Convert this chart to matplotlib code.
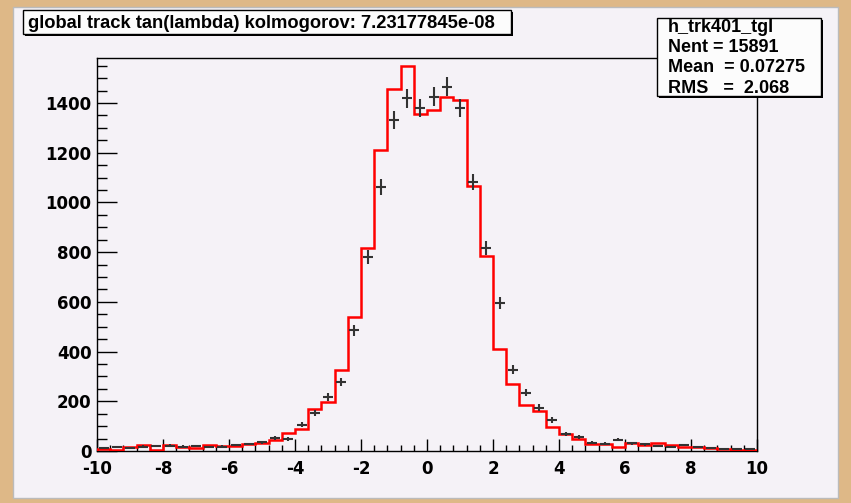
import numpy as np
import matplotlib
matplotlib.use("Agg")
import matplotlib.pyplot as plt
from matplotlib.patches import Rectangle

plt.rcParams["axes.unicode_minus"] = False

# ---------------- data ----------------
x_min, x_max, n_bins = -10.0, 10.0, 50
red_ref = [9, 6, 17, 23, 5, 24, 17, 11, 23, 21,
           22, 28, 33, 44, 72, 88, 170, 197, 326, 538,
           818, 1211, 1456, 1550, 1355, 1372, 1425, 1412, 1067, 786,
           409, 271, 185, 160, 96, 68, 50, 30, 27, 18,
           31, 25, 31, 24, 18, 15, 12, 8, 5, 4]
black_data = [12, 15, 14, 18, 20, 22, 18, 20, 16, 18,
              23, 28, 35, 53, 48, 105, 152, 217, 277, 486,
              782, 1063, 1332, 1419, 1380, 1425, 1466, 1379, 1083, 815,
              594, 326, 235, 174, 124, 70, 55, 34, 30, 45,
              31, 27, 20, 17, 25, 15, 12, 10, 9, 8]
x_ticks = [-10, -8, -6, -4, -2, 0, 2, 4, 6, 8, 10]
y_ticks = [0, 200, 400, 600, 800, 1000, 1200, 1400]
title_text = "global track tan(lambda) kolmogorov: 7.23177845e-08"
stats_lines = ["h_trk401_tgl", "Nent = 15891", "Mean  = 0.07275", "RMS   =  2.068"]

# ---------------- style ----------------
W, H = 851, 503
TAN = "#DEB887"
PAD = "#F5F2F7"
FONT = ["Liberation Sans", "DejaVu Sans"]
TICKFONT = ["DejaVu Sans"]

fig = plt.figure(figsize=(W / 100, H / 100), dpi=100, facecolor=TAN)

def fx(px):
    return px / W

def fy(py):
    return 1 - py / H

# pad background
fig.patches.append(Rectangle((fx(12.7), fy(498)), fx(838) - fx(12.7), fy(7) - fy(498),
                             transform=fig.transFigure, facecolor=PAD,
                             edgecolor="#BBBBBB", lw=1.0, zorder=-5))

ax = fig.add_axes([fx(97), fy(451), fx(757) - fx(97), fy(57.7) - fy(451)])
ax.set_facecolor(PAD)

edges = np.linspace(x_min, x_max, n_bins + 1)
centers = 0.5 * (edges[:-1] + edges[1:])
black = np.array(black_data, dtype=float)

ax.stairs(red_ref, edges, color="#FF0000", lw=1.8, zorder=3)
ax.errorbar(centers, black, yerr=np.sqrt(black), xerr=0.15, fmt="none",
            ecolor="#333333", elinewidth=1.5, capsize=0, zorder=4)

ax.set_xlim(x_min, x_max)
ax.set_ylim(0, 1582)
ax.set_xticks(x_ticks)
ax.set_yticks(y_ticks)
ax.set_xticks(np.arange(x_min, x_max + 0.001, 0.4), minor=True)
ax.set_yticks(np.arange(0, 1582, 50), minor=True)
ax.tick_params(axis="x", which="major", direction="in", length=8.6, width=1.0,
               pad=6.5, top=False, labelsize=12)
ax.tick_params(axis="x", which="minor", direction="in", length=4.3, width=1.0, top=False)
ax.tick_params(axis="y", which="major", direction="in", length=14.4, width=1.0,
               pad=4, right=False, labelsize=12)
ax.tick_params(axis="y", which="minor", direction="in", length=7.2, width=1.0, right=False)
for lab in ax.get_xticklabels() + ax.get_yticklabels():
    lab.set_fontfamily(TICKFONT)
    lab.set_fontweight("bold")
for s in ax.spines.values():
    s.set_linewidth(1.0)
    s.set_color("black")

# boxes with shadow
def shadow_box(x0, y0, x1, y1):
    sh = 2.0
    fig.patches.append(Rectangle((fx(x0 + sh), fy(y1 + sh)), fx(x1) - fx(x0), fy(y0) - fy(y1),
                                 transform=fig.transFigure, facecolor="black",
                                 edgecolor="black", lw=0, zorder=5))
    fig.patches.append(Rectangle((fx(x0), fy(y1)), fx(x1) - fx(x0), fy(y0) - fy(y1),
                                 transform=fig.transFigure, facecolor="#FCFCFC",
                                 edgecolor="black", lw=1.0, zorder=6))

shadow_box(22.7, 10, 511, 34)
fig.text(fx(28), fy(23), title_text, fontsize=13.2, fontweight="bold",
         family=FONT, ha="left", va="center", zorder=7)

shadow_box(657.3, 18.3, 821, 95.5)
for i, line in enumerate(stats_lines):
    fig.text(fx(668), fy(27 + i * 20.5), line, fontsize=13, fontweight="bold",
             family=FONT, ha="left", va="center", zorder=7)

fig.savefig("out.png", dpi=100, facecolor=TAN)
